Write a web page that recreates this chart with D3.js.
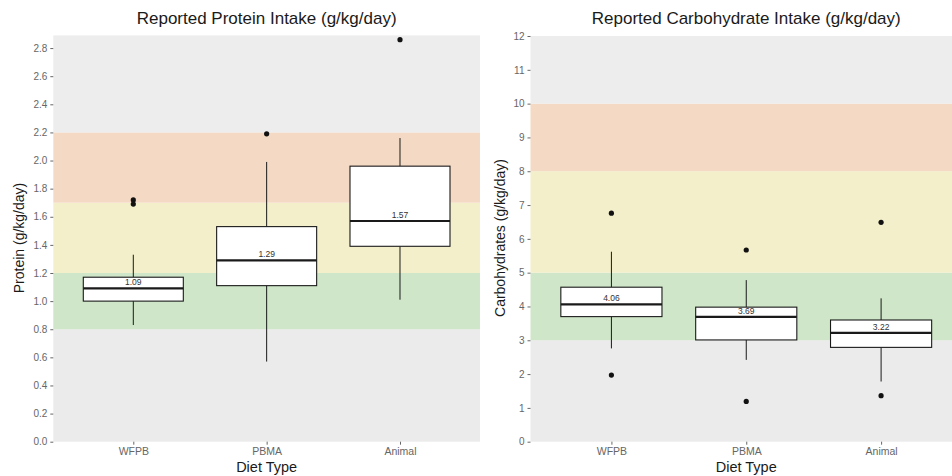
<!DOCTYPE html>
<html>
<head>
<meta charset="utf-8">
<script src="https://cdn.jsdelivr.net/npm/d3@7"></script>
<style>
  body { margin: 0; background: #ffffff; }
  text { font-family: "Liberation Sans", Arial, sans-serif; }
</style>
</head>
<body>
<div id="chart"></div>
<script>
// categories on the x axis
const dietTypes = ["WFPB", "PBMA", "Animal"];

// protein boxes: [lowWhisker, q1, median, q3, highWhisker]
const proteinStats = [
  [0.83, 1.00, 1.09, 1.17, 1.33],
  [0.57, 1.11, 1.29, 1.53, 1.99],
  [1.01, 1.39, 1.57, 1.96, 2.16]
];
const proteinOutliers = [[1.72, 1.69], [2.19], [2.86]];
const proteinTicks = [0, 0.2, 0.4, 0.6, 0.8, 1.0, 1.2, 1.4, 1.6, 1.8, 2.0, 2.2, 2.4, 2.6, 2.8];
// recommendation bands [from, to, colour]
const proteinBands = [
  [0, 0.8, "#ebebeb"],
  [0.8, 1.2, "#cfe6c8"],
  [1.2, 1.7, "#f2efca"],
  [1.7, 2.2, "#f4dac4"],
  [2.2, 2.89, "#ededed"]
];

const carbStats = [
  [2.76, 3.70, 4.06, 4.57, 5.62],
  [2.42, 3.01, 3.69, 3.98, 4.78],
  [1.78, 2.79, 3.22, 3.60, 4.24]
];
const carbOutliers = [[6.76, 1.97], [5.67, 1.19], [6.49, 1.36]];
const carbTicks = [0, 1, 2, 3, 4, 5, 6, 7, 8, 9, 10, 11, 12];
const carbBands = [
  [0, 3, "#ebebeb"],
  [3, 5, "#cfe6c8"],
  [5, 8, "#f2efca"],
  [8, 10, "#f4dac4"],
  [10, 12, "#ededed"]
];

const svg = d3.select("#chart")
  .append("svg")
  .attr("width", 952)
  .attr("height", 476);

const drawPanel = (opt) => {
  const x = d3.scalePoint()
    .domain(dietTypes)
    .range([opt.left, opt.right])
    .padding(0.6);

  const y = d3.scaleLinear()
    .domain(opt.domain)
    .range([441.7, 35]);

  const g = svg.append("g");

  // background bands
  g.selectAll("rect.band")
    .data(opt.bands)
    .join("rect")
      .attr("class", "band")
      .attr("x", opt.left)
      .attr("width", opt.right - opt.left)
      .attr("y", d => y(d[1]))
      .attr("height", d => y(d[0]) - y(d[1]))
      .style("fill", d => d[2]);

  const boxW = x.step() * 0.75;
  const rows = opt.stats.map((s, i) => ({ cat: dietTypes[i], s: s, out: opt.outliers[i] }));

  // whiskers
  g.selectAll("line.whisk-lo")
    .data(rows)
    .join("line")
      .attr("x1", d => x(d.cat)).attr("x2", d => x(d.cat))
      .attr("y1", d => y(d.s[0])).attr("y2", d => y(d.s[1]))
      .style("stroke", "#1a1a1a").style("stroke-width", 1);
  g.selectAll("line.whisk-hi")
    .data(rows)
    .join("line")
      .attr("x1", d => x(d.cat)).attr("x2", d => x(d.cat))
      .attr("y1", d => y(d.s[3])).attr("y2", d => y(d.s[4]))
      .style("stroke", "#1a1a1a").style("stroke-width", 1);

  // boxes
  g.selectAll("rect.box")
    .data(rows)
    .join("rect")
      .attr("class", "box")
      .attr("x", d => x(d.cat) - boxW / 2)
      .attr("width", boxW)
      .attr("y", d => y(d.s[3]))
      .attr("height", d => y(d.s[1]) - y(d.s[3]))
      .style("fill", "#ffffff")
      .style("stroke", "#1a1a1a")
      .style("stroke-width", 1.1);

  // medians
  g.selectAll("line.median")
    .data(rows)
    .join("line")
      .attr("x1", d => x(d.cat) - boxW / 2).attr("x2", d => x(d.cat) + boxW / 2)
      .attr("y1", d => y(d.s[2])).attr("y2", d => y(d.s[2]))
      .style("stroke", "#1a1a1a").style("stroke-width", 2.2);

  g.selectAll("text.medlab")
    .data(rows)
    .join("text")
      .attr("x", d => x(d.cat))
      .attr("y", d => y(d.s[2]) - 3)
      .attr("text-anchor", "middle")
      .style("font-size", "8.5px")
      .style("fill", "#333")
      .text(d => d.s[2].toFixed(2));

  // outliers
  g.selectAll("circle")
    .data(rows.flatMap(d => d.out.map(v => ({ cat: d.cat, v: v }))))
    .join("circle")
      .attr("cx", d => x(d.cat))
      .attr("cy", d => y(d.v))
      .attr("r", 2.6)
      .style("fill", "#111");

  // axes
  const yAxis = g.append("g")
    .attr("transform", `translate(${opt.left},0)`)
    .call(d3.axisLeft(y).tickValues(opt.ticks).tickFormat(opt.fmt).tickSize(3).tickPadding(3));
  const xAxis = g.append("g")
    .attr("transform", "translate(0,441.7)")
    .call(d3.axisBottom(x).tickSize(3).tickPadding(3));
  [yAxis, xAxis].forEach(a => {
    a.select(".domain").remove();
    a.selectAll(".tick line").style("stroke", "#666");
    a.selectAll(".tick text").style("fill", "#666").style("font-size", "10px");
  });
  xAxis.selectAll(".tick text").style("font-size", "10.5px");

  const cx = (opt.left + opt.right) / 2;
  g.append("text")
    .attr("x", cx).attr("y", 24)
    .attr("text-anchor", "middle")
    .style("font-size", "17px").style("fill", "#1a1a1a")
    .text(opt.title);

  g.append("text")
    .attr("x", cx).attr("y", 472)
    .attr("text-anchor", "middle")
    .style("font-size", "14.5px").style("fill", "#1a1a1a")
    .text("Diet Type");

  g.append("text")
    .attr("transform", `translate(${opt.ylabX},238) rotate(-90)`)
    .attr("text-anchor", "middle")
    .style("font-size", "14px").style("fill", "#1a1a1a")
    .text(opt.ylab);
};

drawPanel({
  left: 53.3, right: 480,
  domain: [0, 2.893],
  bands: proteinBands, stats: proteinStats, outliers: proteinOutliers,
  ticks: proteinTicks, fmt: d3.format(".1f"),
  title: "Reported Protein Intake (g/kg/day)",
  ylab: "Protein (g/kg/day)", ylabX: 24
});

drawPanel({
  left: 530.5, right: 962,
  domain: [0, 12.03],
  bands: carbBands, stats: carbStats, outliers: carbOutliers,
  ticks: carbTicks, fmt: d3.format("d"),
  title: "Reported Carbohydrate Intake (g/kg/day)",
  ylab: "Carbohydrates (g/kg/day)", ylabX: 505
});
</script>
</body>
</html>
